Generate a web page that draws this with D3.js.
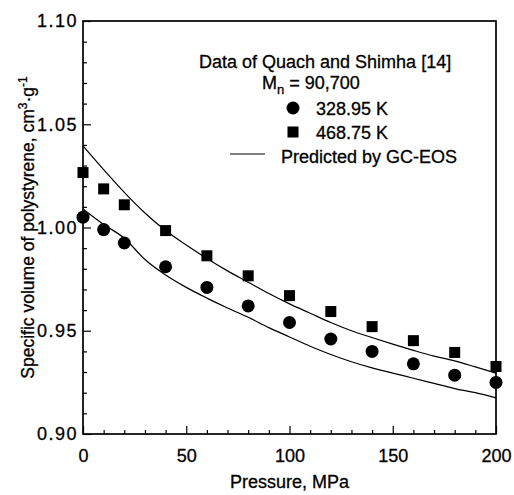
<!DOCTYPE html>
<html><head><meta charset="utf-8">
<script src="https://cdn.jsdelivr.net/npm/d3@7"></script>
<style>
body{margin:0;background:#fff}
svg{display:block}
text{font-family:"Liberation Sans",Arial,Helvetica,sans-serif;fill:#000;stroke:#000;stroke-width:0.3px}
</style>
</head><body>
<svg id="c" width="514" height="495"></svg>
<script>
// ---- data ----
const pressure = [0, 10, 20, 40, 60, 80, 100, 120, 140, 160, 180, 200];
const v32895 = [1.005, 0.999, 0.9925, 0.981, 0.971, 0.962, 0.954, 0.946, 0.940, 0.934, 0.9285, 0.925];
const v46875 = [1.0266, 1.0187, 1.011, 0.9985, 0.9863, 0.9766, 0.967, 0.9593, 0.952, 0.9452, 0.9395, 0.9327];
const predPressure = [0, 10, 20, 30, 40, 50, 60, 70, 80, 90, 100, 110, 120, 130, 140, 150, 160, 170, 180, 190, 200];
const pred46875 = [1.0395, 1.028, 1.017, 1.007, 0.9985, 0.9915, 0.985, 0.979, 0.9735, 0.968, 0.963, 0.9585, 0.954, 0.950, 0.9467, 0.9435, 0.9405, 0.9377, 0.9354, 0.9325, 0.9295];
const pred32895 = [1.009, 1.0015, 0.9948, 0.9845, 0.977, 0.971, 0.9658, 0.961, 0.9565, 0.9515, 0.947, 0.9425, 0.9385, 0.935, 0.932, 0.9295, 0.927, 0.9245, 0.922, 0.920, 0.9175];
const xTickLabels = [0, 50, 100, 150, 200];
const yTickLabels = [0.90, 0.95, 1.00, 1.05, 1.10];
const legendTitle = "Data of Quach and Shimha [14]";
const legendSeries = ["328.95 K", "468.75 K"];
const legendLine = "Predicted by GC-EOS";

// ---- layout ----
const svg = d3.select("#c");
const L = 83, R = 496, T = 21, B = 434;
const x = d3.scaleLinear().domain([0, 200]).range([L, R]);
const y = d3.scaleLinear().domain([0.90, 1.10]).range([B, T]);

const xMinor = d3.range(0, 201, 10).filter(d => d % 50 !== 0);
const yMinor = d3.range(90, 111, 1).filter(d => d % 5 !== 0).map(d => d / 100);

// minor ticks
svg.append("g").attr("transform", `translate(0,${B})`)
  .call(d3.axisBottom(x).tickValues(xMinor).tickSize(-4).tickFormat(""))
  .call(g => g.select(".domain").remove());
svg.append("g").attr("transform", `translate(${L},0)`)
  .call(d3.axisLeft(y).tickValues(yMinor).tickSize(-4).tickFormat(""))
  .call(g => g.select(".domain").remove());

// major ticks + labels
const gx = svg.append("g").attr("transform", `translate(0,${B})`)
  .call(d3.axisBottom(x).tickValues(xTickLabels).tickSizeInner(-8).tickSizeOuter(0).tickPadding(15.5).tickFormat(d3.format("d")))
  .call(g => g.select(".domain").remove());
gx.selectAll("text").attr("font-size", 18).attr("font-family", null).attr("fill", "#000");

const gy = svg.append("g").attr("transform", `translate(${L},0)`)
  .call(d3.axisLeft(y).tickValues(yTickLabels).tickSizeInner(-8).tickSizeOuter(0).tickPadding(5).tickFormat(d3.format(".2f")))
  .call(g => g.select(".domain").remove());
gy.selectAll("text").attr("font-size", 18).attr("font-family", null).attr("fill", "#000").attr("letter-spacing", "1.5px");

svg.selectAll(".tick line").attr("stroke", "#000").attr("stroke-width", 1.2);

// frame
svg.append("rect").attr("x", L).attr("y", T).attr("width", R - L).attr("height", B - T)
  .attr("fill", "none").attr("stroke", "#000").attr("stroke-width", 1.7);

// predicted curves
const line = d3.line().x(d => x(d[0])).y(d => y(d[1])).curve(d3.curveMonotoneX);
[pred46875, pred32895].forEach(arr => {
  svg.append("path").datum(predPressure.map((p, i) => [p, arr[i]]))
    .attr("d", line).attr("fill", "none").attr("stroke", "#000").attr("stroke-width", 1.2);
});

// data points
svg.append("g").selectAll("circle").data(pressure.map((p, i) => [p, v32895[i]])).join("circle")
  .attr("cx", d => x(d[0])).attr("cy", d => y(d[1])).attr("r", 6.5).attr("fill", "#000");
const sq = 11;
svg.append("g").selectAll("rect").data(pressure.map((p, i) => [p, v46875[i]])).join("rect")
  .attr("x", d => x(d[0]) - sq / 2).attr("y", d => y(d[1]) - sq / 2)
  .attr("width", sq).attr("height", sq).attr("fill", "#000");

// legend
const lg = svg.append("g").attr("font-size", 18);
lg.append("text").attr("x", 199).attr("y", 68).text(legendTitle);
const mn = lg.append("text").attr("x", 262).attr("y", 89);
mn.append("tspan").text("M");
mn.append("tspan").attr("font-size", 13).attr("dy", 5).text("n");
mn.append("tspan").attr("dy", -5).text(" = 90,700");
lg.append("circle").attr("cx", 293).attr("cy", 108).attr("r", 6.5).attr("fill", "#000");
lg.append("text").attr("x", 316).attr("y", 115).text(legendSeries[0]);
lg.append("rect").attr("x", 293 - 5.5).attr("y", 132 - 5.5).attr("width", 11).attr("height", 11).attr("fill", "#000");
lg.append("text").attr("x", 316).attr("y", 139).text(legendSeries[1]);
lg.append("line").attr("x1", 230).attr("x2", 265).attr("y1", 154).attr("y2", 154).attr("stroke", "#000").attr("stroke-width", 1.2);
lg.append("text").attr("x", 281).attr("y", 163).text(legendLine);

// axis titles
svg.append("text").attr("x", (L + R) / 2).attr("y", 488).attr("text-anchor", "middle")
  .attr("font-size", 18).text("Pressure, MPa");
const yt = svg.append("text").attr("transform", `translate(34,${(T + B) / 2}) rotate(-90)`)
  .attr("text-anchor", "middle").attr("font-size", 17.5);
yt.append("tspan").text("Specific volume of polystyrene, cm");
yt.append("tspan").attr("font-size", 12).attr("dy", -7).text("3");
yt.append("tspan").attr("dy", 7).text("·g");
yt.append("tspan").attr("font-size", 12).attr("dy", -7).text("-1");
</script>
</body></html>
